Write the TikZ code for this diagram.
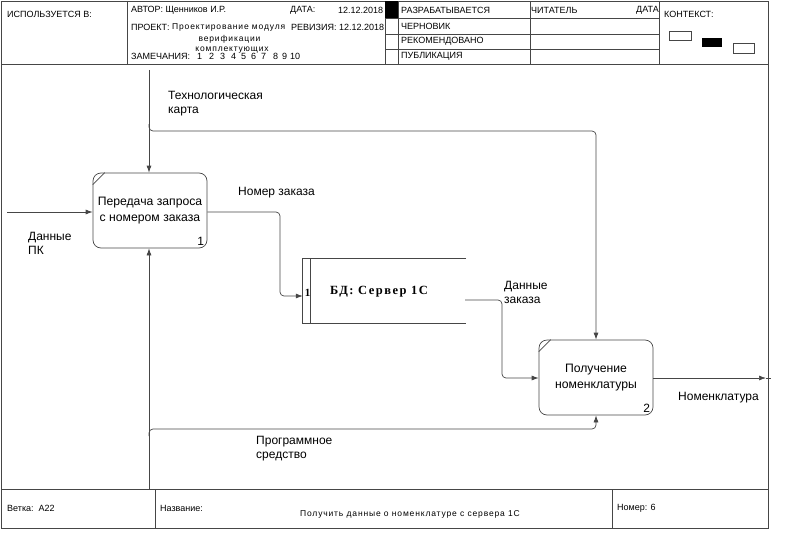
\documentclass[tikz,border=0pt]{standalone}
\usepackage{fontspec}
\setmainfont{Liberation Sans}
\newfontfamily\serifb[LetterSpace=12]{Liberation Serif}
\newfontfamily\spaced[LetterSpace=10]{Liberation Sans}
\usetikzlibrary{arrows.meta}
\definecolor{ln}{RGB}{70,70,70}
\begin{document}
\begin{tikzpicture}[x=1pt,y=-1pt,
  ln/.style={draw=ln, line width=0.7pt},
  arr/.style={ln, -{Latex[length=7pt,width=5pt]}},
  hdr/.style={font=\fontsize{9}{10}\selectfont, anchor=west, inner sep=0pt},
  hdrc/.style={font=\spaced\fontsize{8.5}{9}\selectfont, inner sep=0pt},
  lbl/.style={font=\fontsize{12}{14}\selectfont, align=left, anchor=west, inner sep=0pt},
  func/.style={ln, rounded corners=8pt, minimum width=114pt, minimum height=75pt, align=center, font=\fontsize{12.2}{16}\selectfont, inner sep=0pt},
  num/.style={font=\fontsize{12}{13}\selectfont, inner sep=0pt}]
\useasboundingbox (0,0) rectangle (799,532);
% frame
\draw[ln] (1,1) rectangle (768,528);
\draw[ln] (1,64) -- (768,64);
\draw[ln] (1,489) -- (768,489);
\foreach \x in {127,385,398,530,659} \draw[ln] (\x,1) -- (\x,64);
\foreach \y in {18,34,49} \draw[ln] (385,\y) -- (659,\y);
\fill[black] (385,1) rectangle (398,18);
\draw[ln] (155,489) -- (155,528);
\draw[ln] (612,489) -- (612,528);
% context boxes
\draw[ln] (669,31) rectangle (691,40);
\fill[black] (702,38) rectangle (722,47);
\draw[ln] (733,43) rectangle (754,53);
% header texts
\node[hdr] (t1) at (7,14) {ИСПОЛЬЗУЕТСЯ В:};
\node[hdr] (t2) at (131,10) {АВТОР: Щенников И.Р.};
\node[hdr] (t3) at (290,10) {ДАТА:};
\node[hdr] (t4) at (338,10) {12.12.2018};
\node[hdr] (t5) at (131,27) {ПРОЕКТ:};
\node[hdrc, anchor=west] (t6) at (172,27) {Проектирование модуля};
\node[hdrc] (t7) at (229.5,39) {верификации};
\node[hdrc] (t8) at (232,50) {комплектующих};
\node[hdr] (t9) at (291,27) {РЕВИЗИЯ: 12.12.2018};
\node[hdr] (t10) at (131,56) {ЗАМЕЧАНИЯ:};
\foreach \n/\x in {1/197,2/209,3/220,4/231,5/241,6/251,7/261,8/273,9/282,10/290}
  \node[hdr] (n\n) at (\x,56) {\n};
\node[hdr] (s1) at (401,10) {РАЗРАБАТЫВАЕТСЯ};
\node[hdr] (s2) at (401,26) {ЧЕРНОВИК};
\node[hdr] (s3) at (401,41) {РЕКОМЕНДОВАНО};
\node[hdr] (s4) at (401,56) {ПУБЛИКАЦИЯ};
\node[hdr] (r1) at (531,10) {ЧИТАТЕЛЬ};
\node[hdr, anchor=east] (r2) at (659,10) {ДАТА};
\node[hdr] (k1) at (664,14) {КОНТЕКСТ:};
% footer texts
\node[hdr] (f1) at (7,508) {Ветка:\ \ A22};
\node[hdr] (f2) at (160,508) {Название:};
\node[hdrc] (f3) at (410,514) {Получить данные о номенклатуре с сервера 1С};
\node[hdr] (f4) at (617,508) {Номер: 6};
% function boxes
\node[func, draw] (b1) at (150,210.5) {Передача запроса\\с номером заказа};
\draw[ln] ([yshift=-12pt]b1.north west) -- ([xshift=12pt]b1.north west);
\node[num, anchor=south east] (b1n) at ([xshift=-3pt,yshift=3pt]b1.south east) {1};
\node[func, draw] (b2) at (596,377.5) {Получение\\номенклатуры};
\draw[ln] ([yshift=-12pt]b2.north west) -- ([xshift=12pt]b2.north west);
\node[num, anchor=south east] (b2n) at ([xshift=-3pt,yshift=3pt]b2.south east) {2};
% data store
\node[minimum width=163pt, minimum height=64pt, inner sep=0pt] (db) at (384.5,291) {};
\draw[ln] (db.north east) -- (db.north west) -- (db.south west) -- (db.south east);
\draw[ln] ([xshift=8pt]db.north west) -- ([xshift=8pt]db.south west);
\node[font=\serifb\bfseries\fontsize{11}{13}\selectfont, inner sep=0pt] (dbn) at (307.5,293) {1};
\node[font=\serifb\bfseries\fontsize{12.5}{14}\selectfont, inner sep=0pt] (dbt) at (379,292) {БД: Сервер 1С};
% coordinates
\coordinate (inL) at (7,212);
\coordinate (ctlTop) at (149,70);
\coordinate (mecBot) at (149,489);
\coordinate (outR) at (771,378);
\coordinate (dbIn) at (db.west |- 0,296);
\coordinate (dbOut) at (465,300);
% arrows
\draw[arr] (inL) -- (inL -| b1.west);
\draw[arr] (ctlTop) -- (ctlTop |- b1.north);
\draw[arr, rounded corners=4pt] (149,124) -- (149,131) -- (596,131) -- (b2.north);
\draw[arr] (mecBot) -- (mecBot |- b1.south);
\draw[arr, rounded corners=4pt] (149,436) -- (149,429) -- (596,429) -- (b2.south);
\draw[arr, rounded corners=4pt] (b1.east |- 0,212) -- (280,212) -- (280,296) -- (dbIn);
\draw[arr, rounded corners=4pt] (dbOut) -- (502,300) -- (502,378) -- (b2.west |- 0,378);
\draw[arr] (b2.east |- 0,378) -- (766,378);
\draw[ln] (766,378) -- (outR);
% labels
\node[lbl] (l1) at (168,104) {Технологическая\\карта};
\node[lbl] (l2) at (28,243) {Данные\\ПК};
\node[lbl] (l3) at (238,193) {Номер заказа};
\node[lbl] (l4) at (504,292) {Данные\\заказа};
\node[lbl] (l5) at (678,398) {Номенклатура};
\node[lbl] (l6) at (256,449) {Программное\\средство};
\end{tikzpicture}
\end{document}
